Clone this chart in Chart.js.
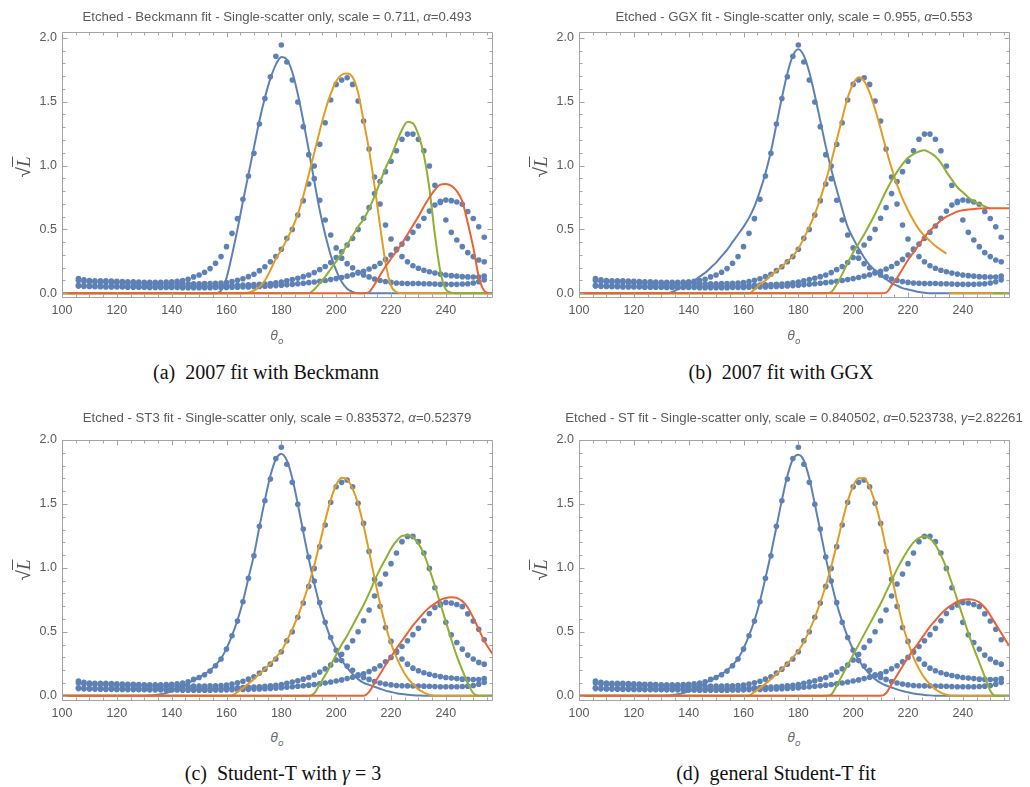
<!DOCTYPE html>
<html><head><meta charset="utf-8"><title>Etched fits</title>
<script src="https://cdn.jsdelivr.net/npm/chart.js@4.4.1/dist/chart.umd.min.js"></script>
<style>
html,body{margin:0;padding:0;background:#fff;}
body{position:relative;width:1030px;height:787px;overflow:hidden;font-family:"Liberation Sans",Arial,sans-serif;}
canvas{position:absolute;}
.t{position:absolute;white-space:nowrap;transform:translate(-50%,-50%);color:#5a5a5a;font-size:13.2px;line-height:15px;}
.xl{position:absolute;white-space:nowrap;transform:translate(-50%,-50%);color:#6a6a6a;font-size:12.5px;font-style:italic;font-family:"DejaVu Sans",sans-serif;}
.xl sub{font-size:9px;}
.yl{position:absolute;white-space:nowrap;transform:translate(-50%,-50%) rotate(-90deg);color:#555;font-size:19px;line-height:20px;}
.ov{text-decoration:overline;font-style:italic;font-family:"Liberation Serif",serif;}
.cap{position:absolute;white-space:nowrap;transform:translate(-50%,-50%);color:#111;font-family:"Liberation Serif",serif;font-size:20px;}
</style></head><body>
<canvas id="ca" width="515" height="330" style="left:0;top:0"></canvas>
<canvas id="cb" width="515" height="330" style="left:515px;top:0"></canvas>
<canvas id="cc" width="515" height="330" style="left:0;top:400px"></canvas>
<canvas id="cd" width="515" height="330" style="left:515px;top:400px"></canvas>

<div class="t" style="left:277px;top:16px">Etched - Beckmann fit - Single-scatter only, scale = 0.711, <i>α</i>=0.493</div>
<div class="t" style="left:794px;top:16px">Etched - GGX fit - Single-scatter only, scale = 0.955, <i>α</i>=0.553</div>
<div class="t" style="left:277px;top:417px">Etched - ST3 fit - Single-scatter only, scale = 0.835372, <i>α</i>=0.52379</div>
<div class="t" style="left:794px;top:417px">Etched - ST fit - Single-scatter only, scale = 0.840502, <i>α</i>=0.523738, <i>γ</i>=2.82261</div>

<div class="yl" style="left:24px;top:167px">√<span class="ov">L</span></div>
<div class="yl" style="left:541px;top:167px">√<span class="ov">L</span></div>
<div class="yl" style="left:24px;top:570px">√<span class="ov">L</span></div>
<div class="yl" style="left:541px;top:570px">√<span class="ov">L</span></div>

<div class="xl" style="left:277px;top:337px">θ<sub>o</sub></div>
<div class="xl" style="left:794px;top:337px">θ<sub>o</sub></div>
<div class="xl" style="left:277px;top:739px">θ<sub>o</sub></div>
<div class="xl" style="left:794px;top:739px">θ<sub>o</sub></div>

<div class="cap" style="left:266px;top:372px">(a)&nbsp; 2007 fit with Beckmann</div>
<div class="cap" style="left:781px;top:372px">(b)&nbsp; 2007 fit with GGX</div>
<div class="cap" style="left:283px;top:773px">(c)&nbsp; Student-T with <i>γ</i> = 3</div>
<div class="cap" style="left:776px;top:773px">(d)&nbsp; general Student-T fit</div>

<script>
// ---------- measured data (outgoing angle, degrees) ----------
const THETA = [106,108,110,112,114,116,118,120,122,124,126,128,130,132,134,136,138,140,142,144,
  146,148,150,152,154,156,158,160,162,164,166,168,170,172,174,176,178,180,182,184,
  186,188,190,192,194,196,198,200,202,204,206,208,210,212,214,216,218,220,222,224,
  226,228,230,232,234,236,238,240,242,244,246,248,250,252,254];

const S1 = [0.115,0.105,0.1,0.098,0.098,0.098,0.096,0.094,0.092,0.09,
  0.09,0.088,0.086,0.085,0.085,0.086,0.088,0.09,0.093,0.099,
  0.11,0.128,0.143,0.164,0.193,0.235,0.287,0.365,0.469,0.584,
  0.735,0.918,1.095,1.325,1.525,1.695,1.855,1.943,1.81,1.669,
  1.497,1.304,1.085,0.897,0.728,0.574,0.456,0.355,0.275,0.232,
  0.199,0.164,0.143,0.128,0.112,0.1,0.092,0.085,0.08,0.078,
  0.077,0.077,0.076,0.075,0.074,0.072,0.07,0.07,0.07,0.07,
  0.072,0.075,0.08,0.09,0.105];

const S2 = [0.1,0.092,0.09,0.088,0.088,0.087,0.085,0.083,0.082,0.08,
  0.079,0.077,0.076,0.075,0.075,0.075,0.075,0.075,0.074,0.074,
  0.074,0.075,0.075,0.076,0.077,0.078,0.08,0.083,0.091,0.102,
  0.114,0.13,0.149,0.177,0.208,0.247,0.287,0.344,0.43,0.5,
  0.613,0.725,0.855,0.996,1.166,1.335,1.513,1.635,1.669,1.687,
  1.635,1.505,1.348,1.129,0.91,0.699,0.534,0.425,0.347,0.287,
  0.247,0.216,0.196,0.18,0.168,0.158,0.15,0.143,0.138,0.134,
  0.13,0.128,0.127,0.127,0.135];

const S3 = [0.062,0.058,0.057,0.056,0.056,0.055,0.055,0.054,0.054,0.053,
  0.053,0.052,0.052,0.052,0.052,0.052,0.052,0.053,0.053,0.053,
  0.053,0.054,0.054,0.055,0.055,0.056,0.057,0.058,0.06,0.062,
  0.064,0.066,0.068,0.07,0.073,0.077,0.082,0.088,0.097,0.107,
  0.117,0.13,0.143,0.162,0.185,0.21,0.24,0.28,0.325,0.378,
  0.43,0.5,0.587,0.67,0.78,0.874,0.952,1.033,1.116,1.205,
  1.246,1.246,1.205,1.116,0.996,0.845,0.71,0.574,0.477,0.417,
  0.365,0.318,0.287,0.261,0.247];

const S4 = [0.056,0.054,0.053,0.052,0.051,0.05,0.05,0.049,0.049,0.048,
  0.048,0.047,0.047,0.046,0.046,0.046,0.045,0.045,0.045,0.044,
  0.044,0.044,0.044,0.044,0.044,0.045,0.045,0.046,0.047,0.048,
  0.049,0.05,0.052,0.053,0.055,0.057,0.06,0.063,0.066,0.07,
  0.074,0.078,0.083,0.088,0.094,0.1,0.107,0.115,0.124,0.134,
  0.145,0.158,0.172,0.19,0.21,0.235,0.265,0.3,0.34,0.385,
  0.43,0.478,0.527,0.587,0.643,0.69,0.72,0.73,0.725,0.714,
  0.697,0.64,0.585,0.52,0.438];

// ---------- fitted curves: first angle of the non-zero part, then values every 2 degrees ----------
const A_BLUE_FROM = 156;
const A_BLUE = [0,0.02,0.12,0.3,0.5,0.72,0.93,1.14,1.35,1.53,1.68,1.79,1.85,1.83,1.73,1.56,1.35,1.12,0.88,0.65,0.46,0.3,0.18,0.09,0.035,0.01,0];
const A_ORANGE_FROM = 166;
const A_ORANGE = [0,0.005,0.02,0.05,0.1,0.18,0.27,0.34,0.42,0.51,0.62,0.76,0.93,1.1,1.27,1.43,1.56,1.66,1.71,1.72,1.69,1.57,1.35,1.12,0.84,0.53,0.24,0.06,0.01,0];
const A_GREEN_FROM = 190;
const A_GREEN = [0,0.03,0.08,0.13,0.19,0.25,0.31,0.38,0.45,0.52,0.58,0.66,0.76,0.87,0.98,1.07,1.18,1.28,1.34,1.33,1.24,1.08,0.82,0.46,0.17,0.03,0.005,0];
const A_RED_FROM = 210;
const A_RED = [0,0.01,0.07,0.14,0.21,0.27,0.33,0.39,0.46,0.53,0.6,0.68,0.75,0.81,0.85,0.855,0.84,0.8,0.72,0.55,0.36,0.13,0.02,0];

const B_BLUE_FROM = 130;
const B_BLUE = [0,0,0.01,0.03,0.05,0.075,0.1,0.13,0.16,0.2,0.24,0.29,0.34,0.4,0.46,0.52,0.59,0.68,0.8,0.94,1.11,1.32,1.53,1.72,1.86,1.91,1.86,1.73,1.55,1.35,1.15,0.97,0.81,0.66,0.52,0.43,0.35,0.28,0.22,0.18,0.14,0.11,0.08,0.06,0.04,0.03,0.02,0.01,0.005,0];
const B_ORANGE_FROM = 162;
const B_ORANGE = [0,0.03,0.07,0.1,0.14,0.175,0.21,0.25,0.29,0.35,0.43,0.52,0.62,0.74,0.88,1.03,1.2,1.37,1.53,1.64,1.69,1.66,1.57,1.44,1.29,1.13,0.98,0.85,0.74,0.65,0.57,0.5,0.45,0.41,0.37,0.34,0.31];
const B_GREEN_FROM = 190;
const B_GREEN = [0,0.01,0.07,0.15,0.24,0.32,0.39,0.46,0.54,0.62,0.71,0.8,0.88,0.95,1.01,1.06,1.09,1.11,1.12,1.1,1.07,1.02,0.95,0.89,0.83,0.79,0.75,0.72,0.7,0.68,0.66];
const B_RED_FROM = 210;
const B_RED = [0,0.005,0.06,0.12,0.19,0.26,0.32,0.38,0.44,0.49,0.53,0.57,0.6,0.62,0.64,0.65,0.655,0.66,0.663,0.665,0.665,0.665,0.665,0.665,0.665];

const C_BLUE_FROM = 130;
const C_BLUE = [0,0.002,0.005,0.012,0.022,0.035,0.05,0.072,0.1,0.12,0.145,0.17,0.2,0.24,0.29,0.37,0.47,0.59,0.74,0.92,1.1,1.32,1.53,1.72,1.85,1.89,1.84,1.7,1.5,1.28,1.07,0.88,0.71,0.57,0.45,0.36,0.28,0.22,0.17,0.13,0.1,0.085,0.07,0.055,0.04,0.03,0.02,0.013,0.008,0.004,0.002,0];
const C_ORANGE_FROM = 160;
const C_ORANGE = [0,0.002,0.03,0.06,0.095,0.13,0.17,0.21,0.25,0.3,0.35,0.43,0.52,0.62,0.74,0.87,1.02,1.19,1.37,1.53,1.65,1.705,1.69,1.62,1.5,1.33,1.13,0.92,0.72,0.55,0.41,0.3,0.21,0.14,0.09,0.05,0.025,0.008,0];
const C_GREEN_FROM = 190;
const C_GREEN = [0,0.02,0.09,0.16,0.24,0.32,0.4,0.47,0.55,0.63,0.71,0.8,0.9,0.99,1.07,1.15,1.21,1.25,1.255,1.24,1.19,1.11,0.99,0.86,0.72,0.58,0.44,0.31,0.2,0.1,0.02,0];
const C_RED_FROM = 210;
const C_RED = [0,0.03,0.1,0.17,0.24,0.305,0.37,0.43,0.49,0.55,0.6,0.65,0.69,0.72,0.75,0.765,0.77,0.765,0.74,0.69,0.61,0.52,0.43,0.36,0.3];

const D_BLUE_FROM = 130;
const D_BLUE = [0,0.002,0.005,0.012,0.022,0.035,0.05,0.072,0.1,0.12,0.145,0.17,0.2,0.24,0.29,0.37,0.47,0.59,0.74,0.92,1.11,1.32,1.53,1.72,1.85,1.885,1.84,1.7,1.5,1.29,1.08,0.89,0.72,0.58,0.46,0.36,0.28,0.22,0.17,0.13,0.1,0.08,0.065,0.05,0.037,0.027,0.018,0.011,0.006,0.003,0.001,0];
const D_ORANGE_FROM = 160;
const D_ORANGE = [0,0.002,0.03,0.06,0.095,0.13,0.17,0.21,0.25,0.3,0.35,0.42,0.51,0.61,0.73,0.86,1.01,1.18,1.36,1.52,1.64,1.7,1.7,1.63,1.51,1.35,1.15,0.94,0.74,0.56,0.42,0.3,0.21,0.14,0.09,0.05,0.025,0.008,0];
const D_GREEN_FROM = 190;
const D_GREEN = [0,0.01,0.08,0.16,0.24,0.32,0.4,0.48,0.56,0.64,0.72,0.81,0.9,0.99,1.07,1.14,1.2,1.235,1.245,1.23,1.18,1.1,1.0,0.88,0.75,0.62,0.49,0.37,0.26,0.15,0.04,0];
const D_RED_FROM = 210;
const D_RED = [0,0.02,0.09,0.16,0.23,0.3,0.36,0.42,0.48,0.54,0.59,0.64,0.68,0.71,0.735,0.75,0.755,0.75,0.73,0.69,0.63,0.56,0.49,0.42,0.36];

// ---------- axes ----------
const X_TICKS = [100,120,140,160,180,200,220,240];
const X_MINOR = [100,105,110,115,120,125,130,135,140,145,150,155,160,165,170,175,180,185,190,195,200,205,210,215,220,225,230,235,240,245,250,255];
const Y_TICKS = [0,0.5,1,1.5,2];
const Y_TICK_LABELS = ['0.0','0.5','1.0','1.5','2.0'];
const Y_MINOR = [0,0.1,0.2,0.3,0.4,0.5,0.6,0.7,0.8,0.9,1,1.1,1.2,1.3,1.4,1.5,1.6,1.7,1.8,1.9,2];
const X_MIN = 100, X_MAX = 257.2, FIT_END = 258;

const DOT_COLOR = '#5e81b5';
const LINE_COLORS = ['#5e81b5','#e19c24','#8fb032','#eb6235'];
const TICK_COLOR = '#5a5a5a';
const FRAME_COLOR = '#a4a4a4';

function curvePoints(from, vals){
  const pts = [];
  for (let x = X_MIN; x < from; x += 2) pts.push({x, y:0});
  vals.forEach((v,i) => pts.push({x: from + 2*i, y: v}));
  let last = from + 2*(vals.length-1);
  if (vals[vals.length-1] !== 0 && last < FIT_END) {
    pts.push({x: last + 0.5, y: null});
    last += 1;
    pts.push({x: last, y: 0});
  }
  for (let x = last + 2; x <= FIT_END; x += 2) pts.push({x, y:0});
  return pts;
}

const framePlugin = {
  id: 'frame',
  afterDatasetsDraw(chart){
    const {ctx, chartArea:a} = chart;
    const xs = chart.scales.x, ys = chart.scales.y;
    const L = Math.round(a.left)+0.5, R = Math.round(a.right)-0.5, T = Math.round(a.top)+0.5, B = Math.round(a.bottom)-0.5;
    ctx.save();
    ctx.strokeStyle = FRAME_COLOR; ctx.lineWidth = 1;
    ctx.beginPath();
    ctx.rect(L, T, R-L, B-T);
    X_MINOR.forEach(v => {
      const p = Math.round(xs.getPixelForValue(v)) + 0.5;
      if (p < L - 0.1 || p > R + 0.1) return;
      const len = X_TICKS.includes(v) ? 5 : 3;
      ctx.moveTo(p, B); ctx.lineTo(p, B - len);
      ctx.moveTo(p, T); ctx.lineTo(p, T + len);
    });
    Y_MINOR.forEach(v => {
      const p = Math.round(ys.getPixelForValue(v)) + 0.5;
      if (p < T - 1 || p > B + 0.1) return;
      const len = Y_TICKS.some(t => Math.abs(t - v) < 1e-9) ? 5 : 3;
      ctx.moveTo(L, p); ctx.lineTo(L + len, p);
      ctx.moveTo(R, p); ctx.lineTo(R - len, p);
    });
    ctx.stroke();
    ctx.restore();
  }
};

const PANELS = [
  {id:'ca', w:515, h:330, l:62, t:32, r:493, b:298, yMin:-0.037, yMax:2.045,
   curves:[[A_BLUE_FROM,A_BLUE],[A_ORANGE_FROM,A_ORANGE],[A_GREEN_FROM,A_GREEN],[A_RED_FROM,A_RED]]},
  {id:'cb', w:515, h:330, l:64, t:32, r:495, b:298, yMin:-0.037, yMax:2.045,
   curves:[[B_BLUE_FROM,B_BLUE],[B_ORANGE_FROM,B_ORANGE],[B_GREEN_FROM,B_GREEN],[B_RED_FROM,B_RED]]},
  {id:'cc', w:515, h:330, l:62, t:40, r:493, b:301, yMin:-0.041, yMax:2.0,
   curves:[[C_BLUE_FROM,C_BLUE],[C_ORANGE_FROM,C_ORANGE],[C_GREEN_FROM,C_GREEN],[C_RED_FROM,C_RED]]},
  {id:'cd', w:515, h:330, l:64, t:40, r:495, b:301, yMin:-0.041, yMax:2.0,
   curves:[[D_BLUE_FROM,D_BLUE],[D_ORANGE_FROM,D_ORANGE],[D_GREEN_FROM,D_GREEN],[D_RED_FROM,D_RED]]}
];

const tickFont = {family:'"Liberation Sans", Arial, sans-serif', size:12.5};

PANELS.forEach(P => {
  const datasets = [];
  [S1,S2,S3,S4].forEach(s => datasets.push({
    type:'scatter', data: THETA.map((x,i) => ({x, y:s[i]})),
    pointRadius:2.8, pointBackgroundColor:DOT_COLOR, pointBorderWidth:0, pointBorderColor:DOT_COLOR,
    showLine:false, order:10
  }));
  P.curves.forEach((c,k) => datasets.push({
    type:'line', data: curvePoints(c[0], c[1]),
    borderColor: LINE_COLORS[k], borderWidth:2, pointRadius:0, fill:false,
    cubicInterpolationMode:'monotone', spanGaps:false, order: 4-k
  }));
  new Chart(document.getElementById(P.id), {
    type:'scatter',
    data:{datasets},
    options:{
      responsive:false, animation:false, devicePixelRatio:1, events:[],
      layout:{padding:{left:0, top:P.t, right:P.w - P.r, bottom:0}},
      plugins:{legend:{display:false}, tooltip:{enabled:false}, title:{display:false}},
      scales:{
        x:{type:'linear', min:X_MIN, max:X_MAX,
           grid:{display:false, drawTicks:false}, border:{display:false},
           afterFit(s){ s.height = P.h - P.b; },
           afterBuildTicks(s){ s.ticks = X_TICKS.map(v => ({value:v})); },
           ticks:{color:TICK_COLOR, font:tickFont, padding:5, maxRotation:0, autoSkip:false, callback:(v)=>String(v)}},
        y:{type:'linear', min:P.yMin, max:P.yMax,
           grid:{display:false, drawTicks:false}, border:{display:false},
           afterFit(s){ s.width = P.l; },
           afterBuildTicks(s){ s.ticks = Y_TICKS.map(v => ({value:v})); },
           ticks:{color:TICK_COLOR, font:tickFont, padding:5, autoSkip:false, callback:(v,i)=>Y_TICK_LABELS[i]}}
      }
    },
    plugins:[framePlugin]
  });
});
</script>
</body></html>
